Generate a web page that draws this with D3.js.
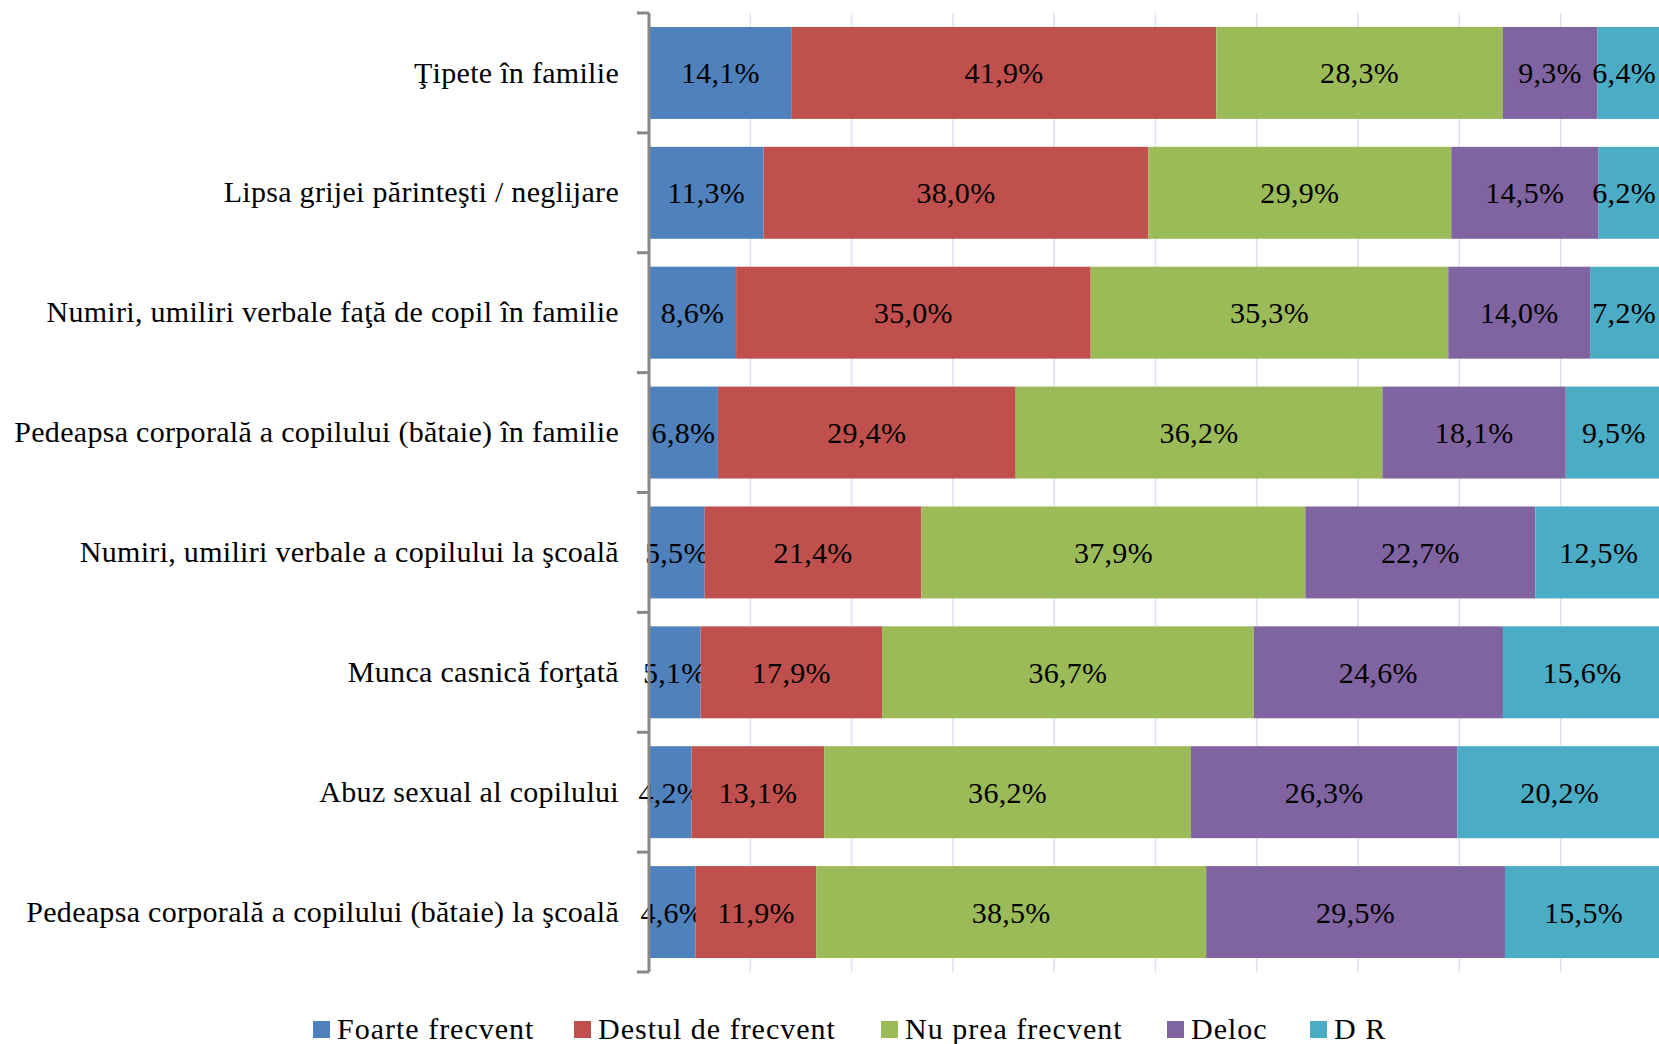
<!DOCTYPE html>
<html>
<head>
<meta charset="utf-8">
<script src="https://cdn.jsdelivr.net/npm/d3@7"></script>
<style>
body { margin: 0; background: #fff; }
text { font-family: "Liberation Serif", serif; fill: #000; }
</style>
</head>
<body>
<div id="chart"></div>
<script>
var width = 1659;
var height = 1044;

// categories, top to bottom
var categories = [
	'Ţipete în familie',
	'Lipsa grijei părinteşti / neglijare',
	'Numiri, umiliri verbale faţă de copil în familie',
	'Pedeapsa corporală a copilului (bătaie) în familie',
	'Numiri, umiliri verbale a copilului la şcoală',
	'Munca casnică forţată',
	'Abuz sexual al copilului',
	'Pedeapsa corporală a copilului (bătaie) la şcoală'
];
var seriesNames = ['Foarte frecvent', 'Destul de frecvent', 'Nu prea frecvent', 'Deloc', 'D R'];
var seriesColors = ['#4f81bd', '#c0504d', '#9bbb59', '#8064a2', '#4bacc6'];

var foarte  = [14.1, 11.3, 8.6, 6.8, 5.5, 5.1, 4.2, 4.6];
var destul  = [41.9, 38.0, 35.0, 29.4, 21.4, 17.9, 13.1, 11.9];
var nuPrea  = [28.3, 29.9, 35.3, 36.2, 37.9, 36.7, 36.2, 38.5];
var deloc   = [9.3, 14.5, 14.0, 18.1, 22.7, 24.6, 26.3, 29.5];
var dr      = [6.4, 6.2, 7.2, 9.5, 12.5, 15.6, 20.2, 15.5];
var gridTicks = [10, 20, 30, 40, 50, 60, 70, 80, 90, 100];

var values = [foarte, destul, nuPrea, deloc, dr];

var plotLeft = 649, plotRight = 1662, plotTop = 13, plotBottom = 972;
var fontSize = '30px', spacing = '0.3px';

var svg = d3.select('#chart').append('svg')
	.attr('width', width)
	.attr('height', height);

var x = d3.scaleLinear().domain([0, 100]).range([plotLeft, plotRight]);
var y = d3.scaleBand().domain(categories).range([plotTop, plotBottom])
	.paddingInner(0.233).paddingOuter(0.1165);

// gridlines
svg.append('g').selectAll('line')
	.data(gridTicks)
	.enter().append('line')
	.attr('x1', function(d){ return x(d) })
	.attr('x2', function(d){ return x(d) })
	.attr('y1', plotTop)
	.attr('y2', plotBottom)
	.attr('stroke', '#dbe3f0')
	.attr('stroke-width', 1.5);

// build stacked rows
var rows = categories.map(function(c, i){
	var r = { cat: c };
	seriesNames.forEach(function(s, j){ r[s] = values[j][i] });
	return r;
});
var stack = d3.stack().keys(seriesNames)(rows);

function fmt(v){ return v.toFixed(1).replace('.', ',') + '%' }

var layers = svg.append('g').selectAll('g')
	.data(stack)
	.enter().append('g')
	.attr('fill', function(d, i){ return seriesColors[i] });

layers.selectAll('rect')
	.data(function(d){ return d })
	.enter().append('rect')
	.attr('x', function(d){ return x(d[0]) })
	.attr('width', function(d){ return x(d[1]) - x(d[0]) })
	.attr('y', function(d){ return y(d.data.cat) })
	.attr('height', y.bandwidth());

layers.selectAll('text')
	.data(function(d){ return d.map(function(p){ return { p: p, key: d.key } }) })
	.enter().append('text')
	.attr('y', function(d){ return y(d.p.data.cat) + y.bandwidth() / 2 })
	.attr('dy', '0.35em')
	.attr('text-anchor', 'middle')
	.style('font-size', fontSize)
	.style('letter-spacing', spacing)
	.text(function(d){ return fmt(d.p.data[d.key]) })
	.attr('x', function(d){
		var c = (x(d.p[0]) + x(d.p[1])) / 2;
		var half = this.getComputedTextLength() / 2;
		return Math.min(c, width - half - 3);
	});

// vertical axis
var axis = d3.axisLeft(y).tickSize(0).tickPadding(30);
var ag = svg.append('g')
	.attr('transform', 'translate(' + plotLeft + ',0)')
	.call(axis);
ag.select('.domain').remove();
ag.selectAll('text')
	.style('font-size', fontSize)
	.style('letter-spacing', spacing)
	.style('font-family', '"Liberation Serif", serif')
	.attr('fill', '#000');

var boundaries = d3.range(categories.length + 1).map(function(i){ return plotTop + i * y.step() });
svg.append('line')
	.attr('x1', plotLeft).attr('x2', plotLeft)
	.attr('y1', plotTop).attr('y2', plotBottom)
	.attr('stroke', '#878787').attr('stroke-width', 3);
svg.append('g').selectAll('line')
	.data(boundaries)
	.enter().append('line')
	.attr('x1', plotLeft - 12).attr('x2', plotLeft)
	.attr('y1', function(d){ return d }).attr('y2', function(d){ return d })
	.attr('stroke', '#878787').attr('stroke-width', 3);

// legend
var legendX = [313, 574, 881, 1167, 1310];
var lg = svg.append('g').selectAll('g')
	.data(seriesNames)
	.enter().append('g')
	.attr('transform', function(d, i){ return 'translate(' + legendX[i] + ',1021)' });
lg.append('rect')
	.attr('width', 17).attr('height', 17)
	.attr('fill', function(d, i){ return seriesColors[i] });
lg.append('text')
	.attr('x', 24).attr('y', 18)
	.style('font-size', fontSize)
	.style('letter-spacing', '1px')
	.text(function(d){ return d });
</script>
</body>
</html>
